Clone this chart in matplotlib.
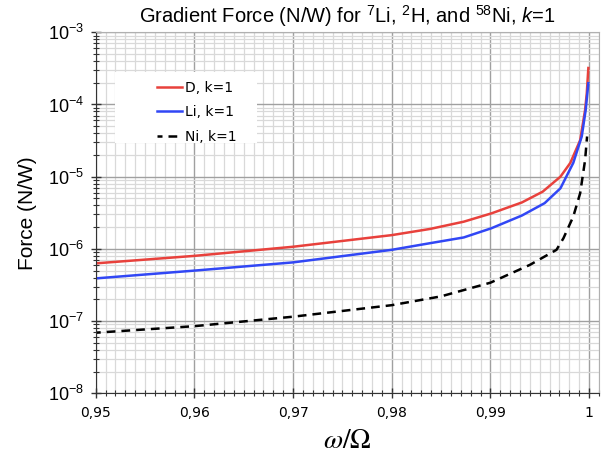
import numpy as np
import matplotlib
matplotlib.use('Agg')
import matplotlib.pyplot as plt
from matplotlib.ticker import LogLocator, FuncFormatter, MultipleLocator, NullFormatter
from matplotlib.patches import Rectangle

plt.rcParams['mathtext.fontset'] = 'custom'
plt.rcParams['mathtext.rm'] = 'Liberation Sans'
plt.rcParams['mathtext.it'] = 'Liberation Sans:italic'

# frequenzverhältnis omega/Omega und kraft pro leistung
omega_D = [0.95, 0.96, 0.97, 0.98, 0.9839, 0.9873, 0.9901, 0.9932, 0.9953, 0.9971,
           0.9981, 0.9991, 0.9996, 0.99977, 0.99993]
force_D = [6.3e-7, 8.0e-7, 1.07e-6, 1.55e-6, 1.89e-6, 2.38e-6, 3.1e-6, 4.4e-6, 6.2e-6, 1.0e-5,
           1.55e-5, 3.2e-5, 8.4e-5, 1.43e-4, 3.2e-4]

omega_Li = [0.95, 0.96, 0.97, 0.98, 0.9839, 0.9873, 0.9901, 0.9932, 0.9955, 0.9971,
            0.9984, 0.99926, 0.99966, 0.99993]
force_Li = [3.9e-7, 5.0e-7, 6.5e-7, 9.7e-7, 1.2e-6, 1.44e-6, 1.93e-6, 2.9e-6, 4.3e-6, 6.9e-6,
            1.55e-5, 3.6e-5, 8.4e-5, 1.97e-4]

omega_Ni = [0.95, 0.96, 0.97, 0.98, 0.985, 0.99, 0.994, 0.9967, 0.9974, 0.9984,
            0.9991, 0.9996, 0.9998]
force_Ni = [6.9e-8, 8.5e-8, 1.15e-7, 1.66e-7, 2.2e-7, 3.4e-7, 6.0e-7, 9.7e-7, 1.4e-6, 2.8e-6,
            5.9e-6, 1.7e-5, 3.6e-5]

xticks = [0.95, 0.96, 0.97, 0.98, 0.99, 1.0]
xticklabels = ['0,95', '0,96', '0,97', '0,98', '0,99', '1']

fig = plt.figure(figsize=(6.16, 4.61), dpi=100)
ax = fig.add_axes([0.1554, 0.1469, 0.8175, 0.7831])

ax.plot(omega_D, force_D, color='#e8413c', lw=1.8, label='D, k=1')
ax.plot(omega_Li, force_Li, color='#3147f5', lw=1.8, label='Li, k=1')
ax.plot(omega_Ni, force_Ni, color='black', lw=1.8, linestyle=(1.5, (3.5, 2.4)), label='Ni, k=1')

ax.set_yscale('log')
ax.set_ylim(1e-8, 1e-3)
ax.set_xlim(0.95, 1.00104)

ax.yaxis.set_major_locator(LogLocator(base=10))
ax.yaxis.set_minor_locator(LogLocator(base=10, subs=np.arange(2, 10)))
ax.yaxis.set_minor_formatter(NullFormatter())
ax.yaxis.set_major_formatter(FuncFormatter(lambda v, p: r'$10^{%d}$' % round(np.log10(v))))
ax.set_xticks(xticks)
ax.set_xticklabels(xticklabels, fontsize=10)
ax.xaxis.set_minor_locator(MultipleLocator(0.001))
for lab in ax.get_yticklabels():
    lab.set_fontsize(13)

ax.tick_params(which='major', direction='inout', length=7, width=1, color='#333333')
ax.tick_params(which='minor', direction='inout', length=4, width=0.8, color='#333333')
ax.tick_params(axis='y', which='major', pad=5)
ax.tick_params(axis='x', which='major', pad=6)

ax.grid(which='major', color='#a0a0a0', lw=1.0)
ax.grid(which='minor', color='#d9d9d9', lw=0.9)
ax.set_axisbelow(True)

ax.spines['left'].set_color('#333333')
ax.spines['bottom'].set_color('#333333')
ax.spines['top'].set_color('#b0b0b0')
ax.spines['right'].set_color('#b0b0b0')

# weisser kasten hinter der legende
ax.add_patch(Rectangle((0.038, 0.693), 0.282, 0.197, transform=ax.transAxes,
                       facecolor='white', edgecolor='none', zorder=2.5))
leg = ax.legend(loc='upper left', bbox_to_anchor=(0.108, 0.885), frameon=False,
                borderpad=0, handlelength=1.8, handletextpad=0.2, labelspacing=0.75,
                prop={'family': 'DejaVu Sans', 'size': 10})
leg.set_zorder(3)

ax.set_title(r'Gradient Force (N/W) for $^{7}$Li, $^{2}$H, and $^{58}$Ni, $k$=1',
             fontsize=14.5, family='Liberation Sans', pad=7)
ax.set_ylabel('Force (N/W)', fontsize=15, family='Liberation Sans', labelpad=8)
ax.set_xlabel(r'$\omega/\Omega$', fontsize=20, math_fontfamily='stix', labelpad=4)

fig.savefig('out.png', dpi=100)
